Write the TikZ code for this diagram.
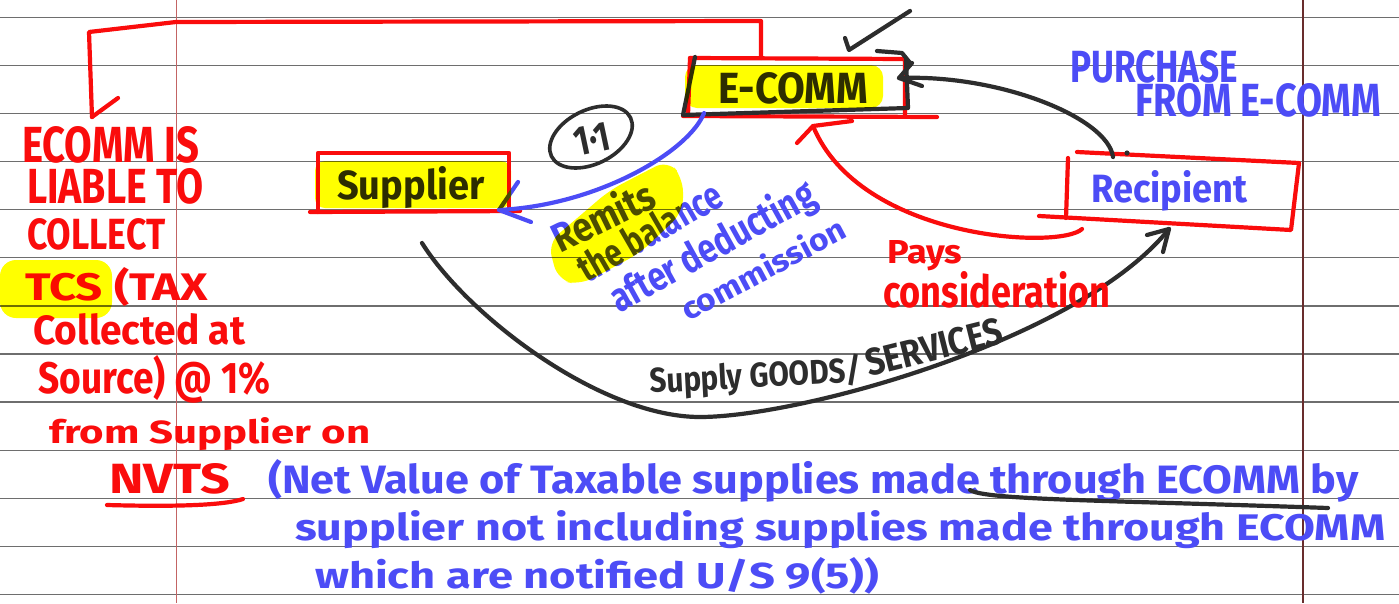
\documentclass[tikz,border=0pt]{standalone}
\usepackage{fontspec}
\setmainfont{Fira Sans}
\usepackage{graphicx}
\definecolor{inkred}{RGB}{250,12,12}
\definecolor{inkblue}{RGB}{76,76,246}
\definecolor{inkblack}{RGB}{45,45,45}
\definecolor{marker}{RGB}{255,255,0}
\definecolor{rulegray}{RGB}{110,110,110}
\definecolor{marginred}{RGB}{195,100,100}
\definecolor{margindark}{RGB}{105,45,45}
% text squeezed into a given width and height (in pt)
\newcommand{\inkt}[3]{\resizebox{#1pt}{#2pt}{\bfseries #3}}
\begin{document}
\begin{tikzpicture}[x=1pt,y=-1pt,
  inkline/.style={line width=4.2pt,line cap=round,line join=round},
  redpen/.style={inkline,draw=inkred},
  bluepen/.style={inkline,draw=inkblue},
  blackpen/.style={inkline,draw=inkblack},
  lbl/.style={inner sep=0pt,anchor=base west},
  redtxt/.style={lbl,text=inkred},
  bluetxt/.style={lbl,text=inkblue},
  blacktxt/.style={lbl,text=inkblack},
  ruleline/.style={draw=rulegray,line width=1.3pt}]

\useasboundingbox (0,0) rectangle (1399,603);
\fill[white] (0,0) rectangle (1399,603);

% ruled paper
\foreach \k in {0,...,12}
  \draw[ruleline] (0,{17.3+48.1*\k}) -- (1399,{17.3+48.1*\k});
\draw[marginred,line width=0.9pt] (176,0) -- (176,603);
\draw[margindark,line width=1.4pt] (1303,0) -- (1303,603);

% ---------- E-COMM box ----------
\draw[redpen] (690,58) -- (905,59) -- (905,115);
\draw[redpen] (690,58) -- (688,115);
\draw[redpen] (683,116) -- (937,117);
\draw[blackpen] (695,57) -- (683,115) -- (908,108) -- (906,60);
\node[blacktxt] (ecomm) at (718,103) {\inkt{150}{31}{E-COMM}};

% ---------- Supplier box ----------
\draw[redpen] (318,212) -- (318,153) -- (509,153) -- (509,211);
\draw[redpen] (310,212) -- (520,211);
\node[blacktxt] (supplier) at (337,199) {\inkt{147}{33}{Supplier}};

% ---------- Recipient box ----------
\draw[redpen] (1077,152) -- (1299,163) -- (1291,230) -- (1039,216);
\draw[redpen] (1068,158) -- (1066,218);
\node[bluetxt] (recipient) at (1091,202) {\inkt{156}{32}{Recipient}};

% connector end points
\coordinate (ecommTop) at (761,58);
\coordinate (bracketTip) at (92,117);
\coordinate (ecommLow) at (704,113);
\coordinate (supRight) at (499,210);
\coordinate (recLeft) at (1082,229);
\coordinate (ecommUnder) at (813,126);
\coordinate (recTop) at (1113,157);
\coordinate (ecommRight) at (899,78);
\coordinate (supBelow) at (422,243);
\coordinate (supBottom) at (700,417);
\coordinate (recBottom) at (1169,229);

% E-COMM liable: bracket down to the note
\draw[redpen] (ecommTop) -- (761,21) -- (176,22) -- (89,32) -- (bracketTip);
\draw[redpen] (bracketTip) -- (118,98);

% remittance to supplier
\draw[bluepen] (ecommLow) .. controls (690,150) and (600,205) .. (supRight);
\draw[bluepen] (518,182) -- (supRight) -- (531,222);

% consideration paid to E-COMM
\draw[redpen] (recLeft) .. controls (1060,250) and (860,240) .. (ecommUnder);
\draw[redpen] (797,143) -- (ecommUnder) -- (852,121);

% purchase from E-COMM
\draw[blackpen] (recTop) .. controls (1108,118) and (1000,74) .. (ecommRight);
\draw[blackpen] (912,63) -- (ecommRight) -- (922,86);
\draw[blackpen] (877,51) -- (902,53) -- (911,64);
\fill[inkblack] (1127,153) circle (2.6);

% supply of goods / services
\draw[blackpen] (supBelow) .. controls (467,315) and (600,417) .. (supBottom)
  .. controls (800,417) and (1080,340) .. (recBottom);
\draw[blackpen] (1147,235) -- (recBottom) -- (1163,252);

% tick mark
\draw[blackpen] (845,38) -- (849,50) -- (910,11);

% circled ratio
\draw[blackpen,line width=3.6pt,rotate around={26:(591,137)}] (591,137) ellipse [x radius=44, y radius=27];
\node[blacktxt,anchor=center,rotate=12] (ratio) at (592,139) {\inkt{36}{28}{1·1}};

% ---------- labels ----------
\node[bluetxt] (purchase) at (1070,82) {\inkt{168}{32}{PURCHASE}};
\node[bluetxt] (fromecomm) at (1135,116) {\inkt{246}{33}{FROM E-COMM}};

\node[bluetxt,rotate=26] (remits) at (560,254) {\inkt{110}{33}{Remits}};
\node[bluetxt,rotate=30] (balance) at (587,284) {\inkt{160}{30}{the balance}};
\node[bluetxt,rotate=29] (after) at (619,314) {\inkt{228}{33}{after deducting}};
\node[bluetxt,rotate=28] (commission) at (688,322) {\inkt{182}{25}{commission}};

\node[redtxt] (pays) at (887,263) {\inkt{75}{23}{Pays}};
\node[redtxt] (consid) at (883,307) {\inkt{227}{36}{consideration}};

\node[blacktxt,rotate=3] (supply1) at (650,393) {\inkt{212}{28}{Supply GOODS/}};
\node[blacktxt,rotate=14] (supply2) at (869,377) {\inkt{140}{27}{SERVICES}};

% ---------- notes ----------
\node[redtxt] (n1) at (22,162) {\inkt{177}{36}{ECOMM IS}};
\node[redtxt] (n2) at (27,203) {\inkt{176}{35}{LIABLE TO}};
\node[redtxt] (n3) at (27,249) {\inkt{138}{31}{COLLECT}};
\node[redtxt] (n4) at (25,300) {\inkt{183}{33}{TCS (TAX}};
\node[redtxt] (n5) at (33,344) {\inkt{212}{31}{Collected at}};
\node[redtxt] (n6) at (38,393) {\inkt{232}{38}{Source) @ 1\%}};
\node[redtxt] (n7) at (49,443) {\inkt{321}{26}{from Supplier on}};
\node[redtxt] (n8) at (109,493) {\inkt{121}{30}{NVTS}};
\draw[redpen] (107,505) .. controls (180,507) and (225,505) .. (243,499);

\node[bluetxt] (d1) at (268,493) {\inkt{1090}{34}{(Net Value of Taxable supplies made through ECOMM by}};
\node[bluetxt] (d2) at (295,540) {\inkt{1090}{30}{supplier not including supplies made through ECOMM}};
\node[bluetxt] (d3) at (315,588) {\inkt{564}{31}{which are notified U/S 9(5))}};
\draw[blackpen] (970,490) .. controls (985,500) and (1100,500) .. (1328,508);

% ---------- highlighter ----------
\begin{scope}[blend mode=multiply]
  \fill[marker,rounded corners=12pt] (685,65) rectangle (883,108);
  \fill[marker,rounded corners=10pt] (315,161) rectangle (511,208);
  \fill[marker,rounded corners=16pt] (0,260) rectangle (112,318);
  \fill[marker,rounded corners=14pt] (548,243) -- (610,190) -- (668,160)
    -- (683,178) -- (683,212) -- (640,253) -- (580,285) -- (558,280) -- cycle;
\end{scope}
\end{tikzpicture}
\end{document}
